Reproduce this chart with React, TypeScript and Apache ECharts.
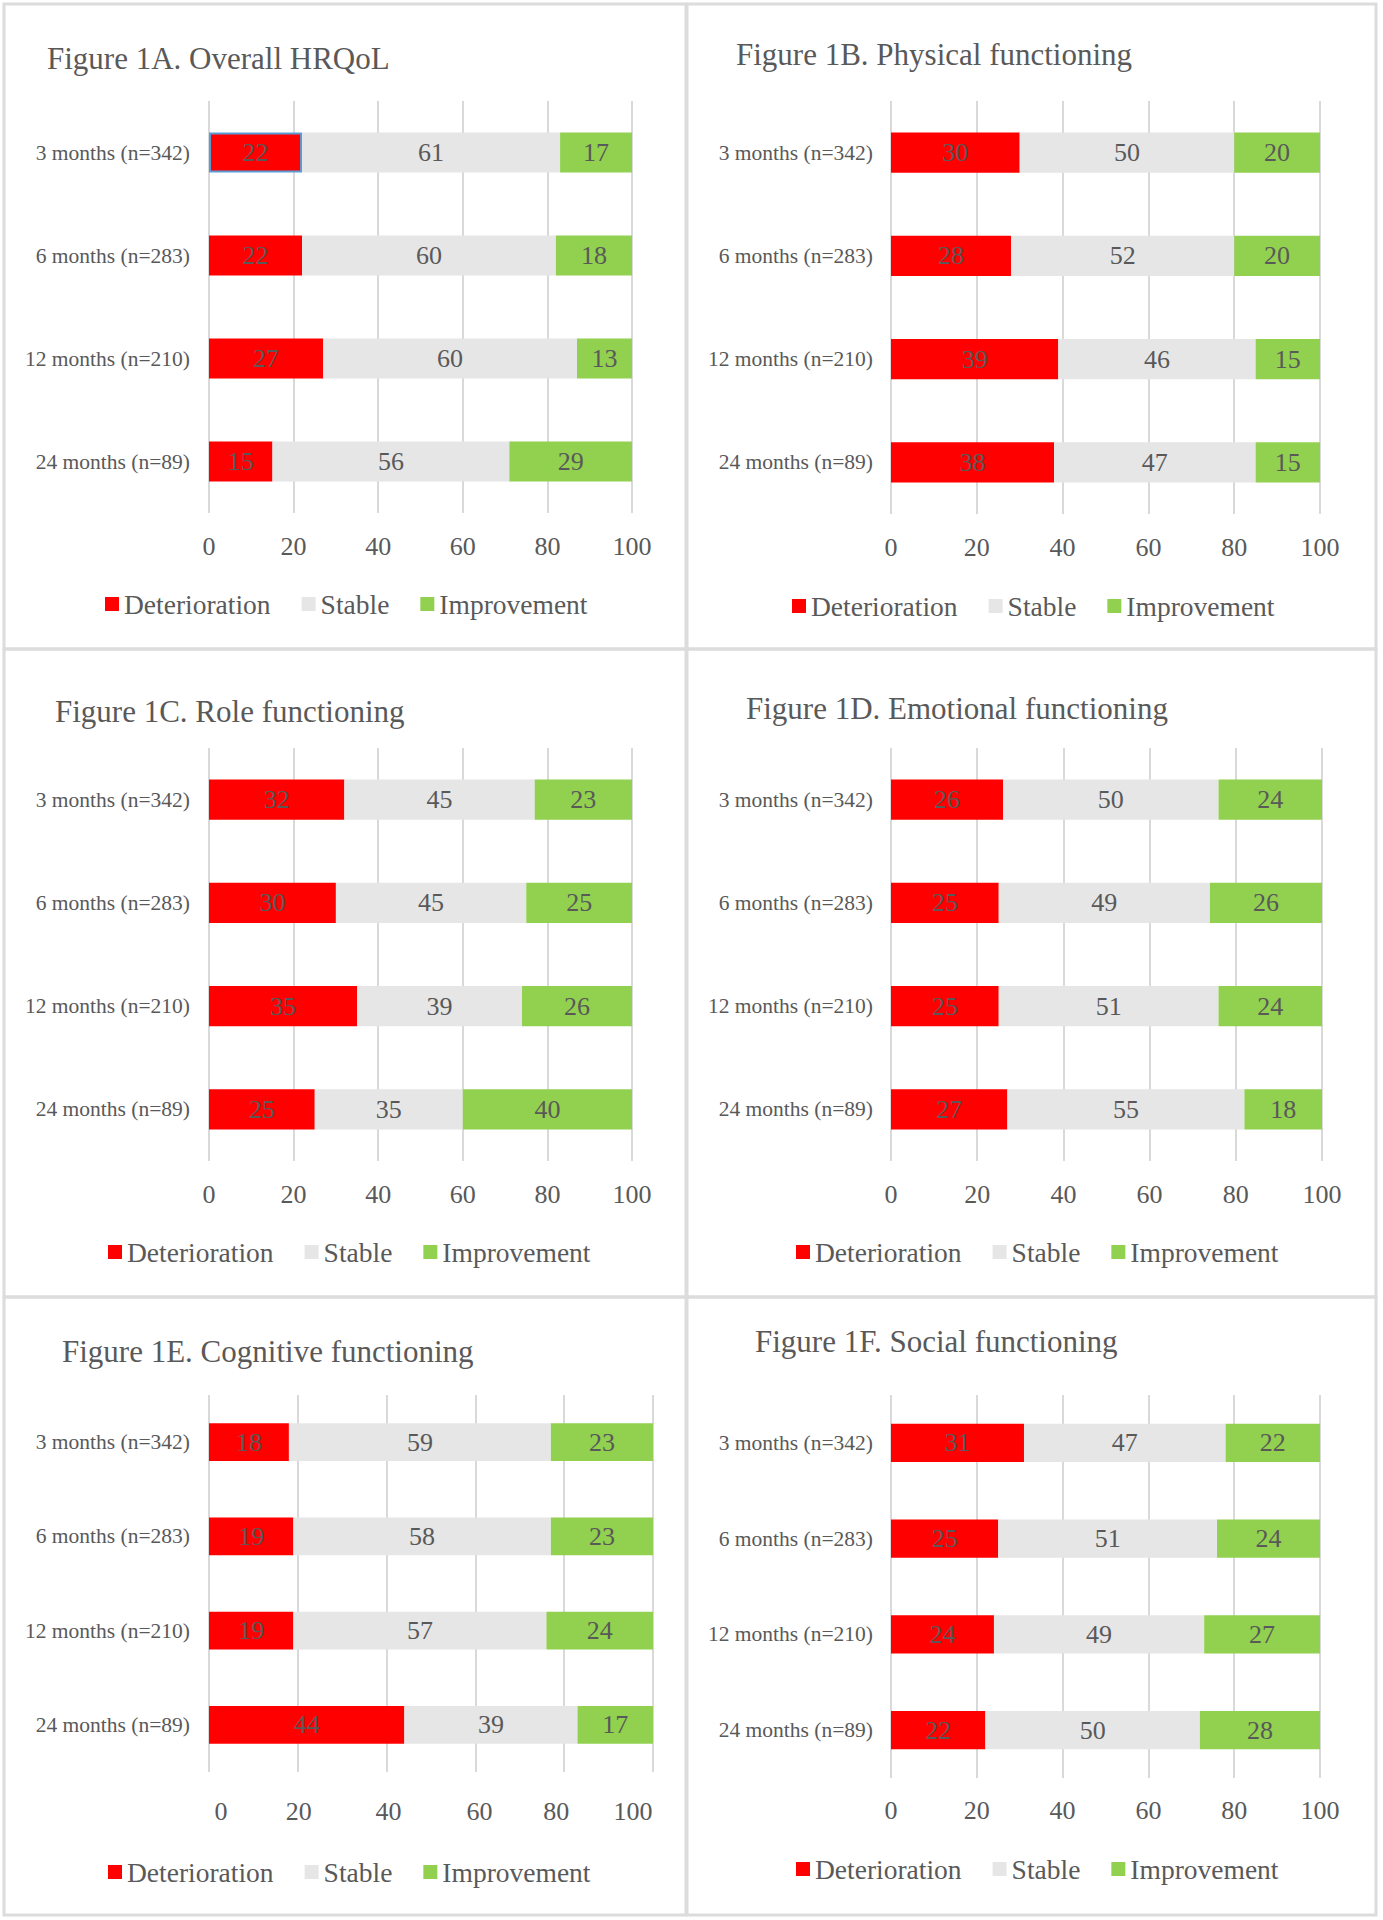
import React, { useEffect, useRef } from "react";
import * as echarts from "echarts";

const categories = ["3 months (n=342)", "6 months (n=283)", "12 months (n=210)", "24 months (n=89)"];
const seriesNames = ["Deterioration", "Stable", "Improvement"];
const xTicks = [0, 20, 40, 60, 80, 100];

const titles = [
  "Figure 1A. Overall HRQoL",
  "Figure 1B. Physical functioning",
  "Figure 1C. Role functioning",
  "Figure 1D. Emotional functioning",
  "Figure 1E. Cognitive functioning",
  "Figure 1F. Social functioning",
];

const detA = [22, 22, 27, 15];
const stableA = [61, 60, 60, 56];
const imprA = [17, 18, 13, 29];

const detB = [30, 28, 39, 38];
const stableB = [50, 52, 46, 47];
const imprB = [20, 20, 15, 15];

const detC = [32, 30, 35, 25];
const stableC = [45, 45, 39, 35];
const imprC = [23, 25, 26, 40];

const detD = [26, 25, 25, 27];
const stableD = [50, 49, 51, 55];
const imprD = [24, 26, 24, 18];

const detE = [18, 19, 19, 44];
const stableE = [59, 58, 57, 39];
const imprE = [23, 23, 24, 17];

const detF = [31, 25, 24, 22];
const stableF = [47, 51, 49, 50];
const imprF = [22, 24, 27, 28];

const panelData = [
  [detA, stableA, imprA],
  [detB, stableB, imprB],
  [detC, stableC, imprC],
  [detD, stableD, imprD],
  [detE, stableE, imprE],
  [detF, stableF, imprF],
];

const colors = ["#FF0000", "#E6E6E6", "#92D050"];
const FONT = "'Liberation Serif', 'Times New Roman', serif";
const TEXT = "#595959";

// layout (pixels)
const layout = [
  { box: [4, 4, 682, 645], title: [47, 59], grid: [209, 101, 423, 412], xm: 20, ym: 19, legend: [105, 605] },
  { box: [687, 4, 689, 645], title: [736, 55], grid: [891, 101, 429, 413], xm: 20, ym: 18, legend: [792, 607] },
  { box: [4, 649, 682, 648], title: [55, 712], grid: [209, 748, 423, 413], xm: 20, ym: 19, legend: [108, 1253] },
  { box: [687, 649, 689, 648], title: [746, 709], grid: [891, 748, 431, 413], xm: 20, ym: 18, legend: [796, 1253] },
  { box: [4, 1297, 682, 618], title: [62, 1352], grid: [209, 1395, 444, 377], xm: 26, ym: 19, legend: [108, 1873] },
  { box: [687, 1297, 689, 618], title: [755, 1342], grid: [891, 1395, 429, 383], xm: 19, ym: 18, legend: [796, 1870] },
];

// panel E's tick labels sit slightly off their gridlines in the original (pixel shift per tick)
const eLabelShift = [12, 1, 2, 4, -8, -20];

export default function App() {
  const ref = useRef<HTMLDivElement>(null);

  useEffect(() => {
    if (!ref.current) return;
    const chart = echarts.init(ref.current, null, { renderer: "svg" });

    const title: any[] = [];
    const grid: any[] = [];
    const xAxis: any[] = [];
    const yAxis: any[] = [];
    const legend: any[] = [];
    const series: any[] = [];
    const graphic: any[] = [];

    const baseLabel = { fontFamily: FONT, fontSize: 26, color: TEXT };

    layout.forEach((L, i) => {
      graphic.push({
        type: "rect",
        shape: { x: L.box[0], y: L.box[1], width: L.box[2], height: L.box[3] },
        style: { fill: "none", stroke: "#DCDCDC", lineWidth: 3 },
        silent: true,
        z: -10,
      });
      title.push({
        text: titles[i],
        left: L.title[0],
        top: L.title[1] - 16,
        padding: 0,
        textStyle: { fontFamily: FONT, fontSize: 31, fontWeight: "normal", color: TEXT },
      });
      grid.push({ left: L.grid[0], top: L.grid[1], width: L.grid[2], height: L.grid[3], containLabel: false });

      const axisLabel: any = { ...baseLabel, margin: L.xm };
      if (i === 4) {
        const rich: any = {};
        xTicks.forEach((t, k) => {
          const d = eLabelShift[k];
          rich["t" + k] = {
            ...baseLabel,
            padding: d >= 0 ? [0, 0, 0, 2 * d] : [0, -2 * d, 0, 0],
          };
        });
        axisLabel.formatter = (v: number) => {
          const k = xTicks.indexOf(v);
          return k >= 0 ? `{t${k}|${v}}` : String(v);
        };
        axisLabel.rich = rich;
      }

      xAxis.push({
        type: "value",
        gridIndex: i,
        min: xTicks[0],
        max: xTicks[xTicks.length - 1],
        interval: xTicks[1] - xTicks[0],
        axisLine: { show: false },
        axisTick: { show: false },
        splitLine: { show: true, lineStyle: { color: "#D9D9D9", width: 2 } },
        axisLabel,
      });
      yAxis.push({
        type: "category",
        gridIndex: i,
        data: categories,
        inverse: true,
        axisLine: { show: false },
        axisTick: { show: false },
        splitLine: { show: false },
        axisLabel: { fontFamily: FONT, fontSize: 21.5, color: TEXT, margin: L.ym },
      });
      legend.push({
        data: seriesNames,
        left: L.legend[0],
        top: L.legend[1] - 15,
        padding: 0,
        icon: "rect",
        itemWidth: 14,
        itemHeight: 14,
        itemGap: 31,
        selectedMode: false,
        textStyle: { fontFamily: FONT, fontSize: 27.5, color: TEXT },
      });
      seriesNames.forEach((name, s) => {
        const vals = panelData[i][s];
        series.push({
          type: "bar",
          name,
          stack: "p" + i,
          xAxisIndex: i,
          yAxisIndex: i,
          barWidth: i >= 4 ? "40%" : "39%",
          itemStyle: { color: colors[s] },
          label: {
            show: true,
            position: "inside",
            fontFamily: FONT,
            fontSize: 26,
            color: TEXT,
          },
          data: vals.map((v, k) =>
            i === 0 && s === 0 && k === 0
              ? { value: v, itemStyle: { color: colors[s], borderColor: "#5B9BD5", borderWidth: 2 } }
              : v
          ),
        });
      });
    });

    chart.setOption({
      animation: false,
      backgroundColor: "#FFFFFF",
      color: colors,
      title,
      grid,
      xAxis,
      yAxis,
      legend,
      series,
      graphic,
    });

    return () => chart.dispose();
  }, []);

  return (
    <div
      ref={ref}
      style={{ position: "absolute", left: 0, top: 0, width: 1383, height: 1920, background: "#fff" }}
    />
  );
}
